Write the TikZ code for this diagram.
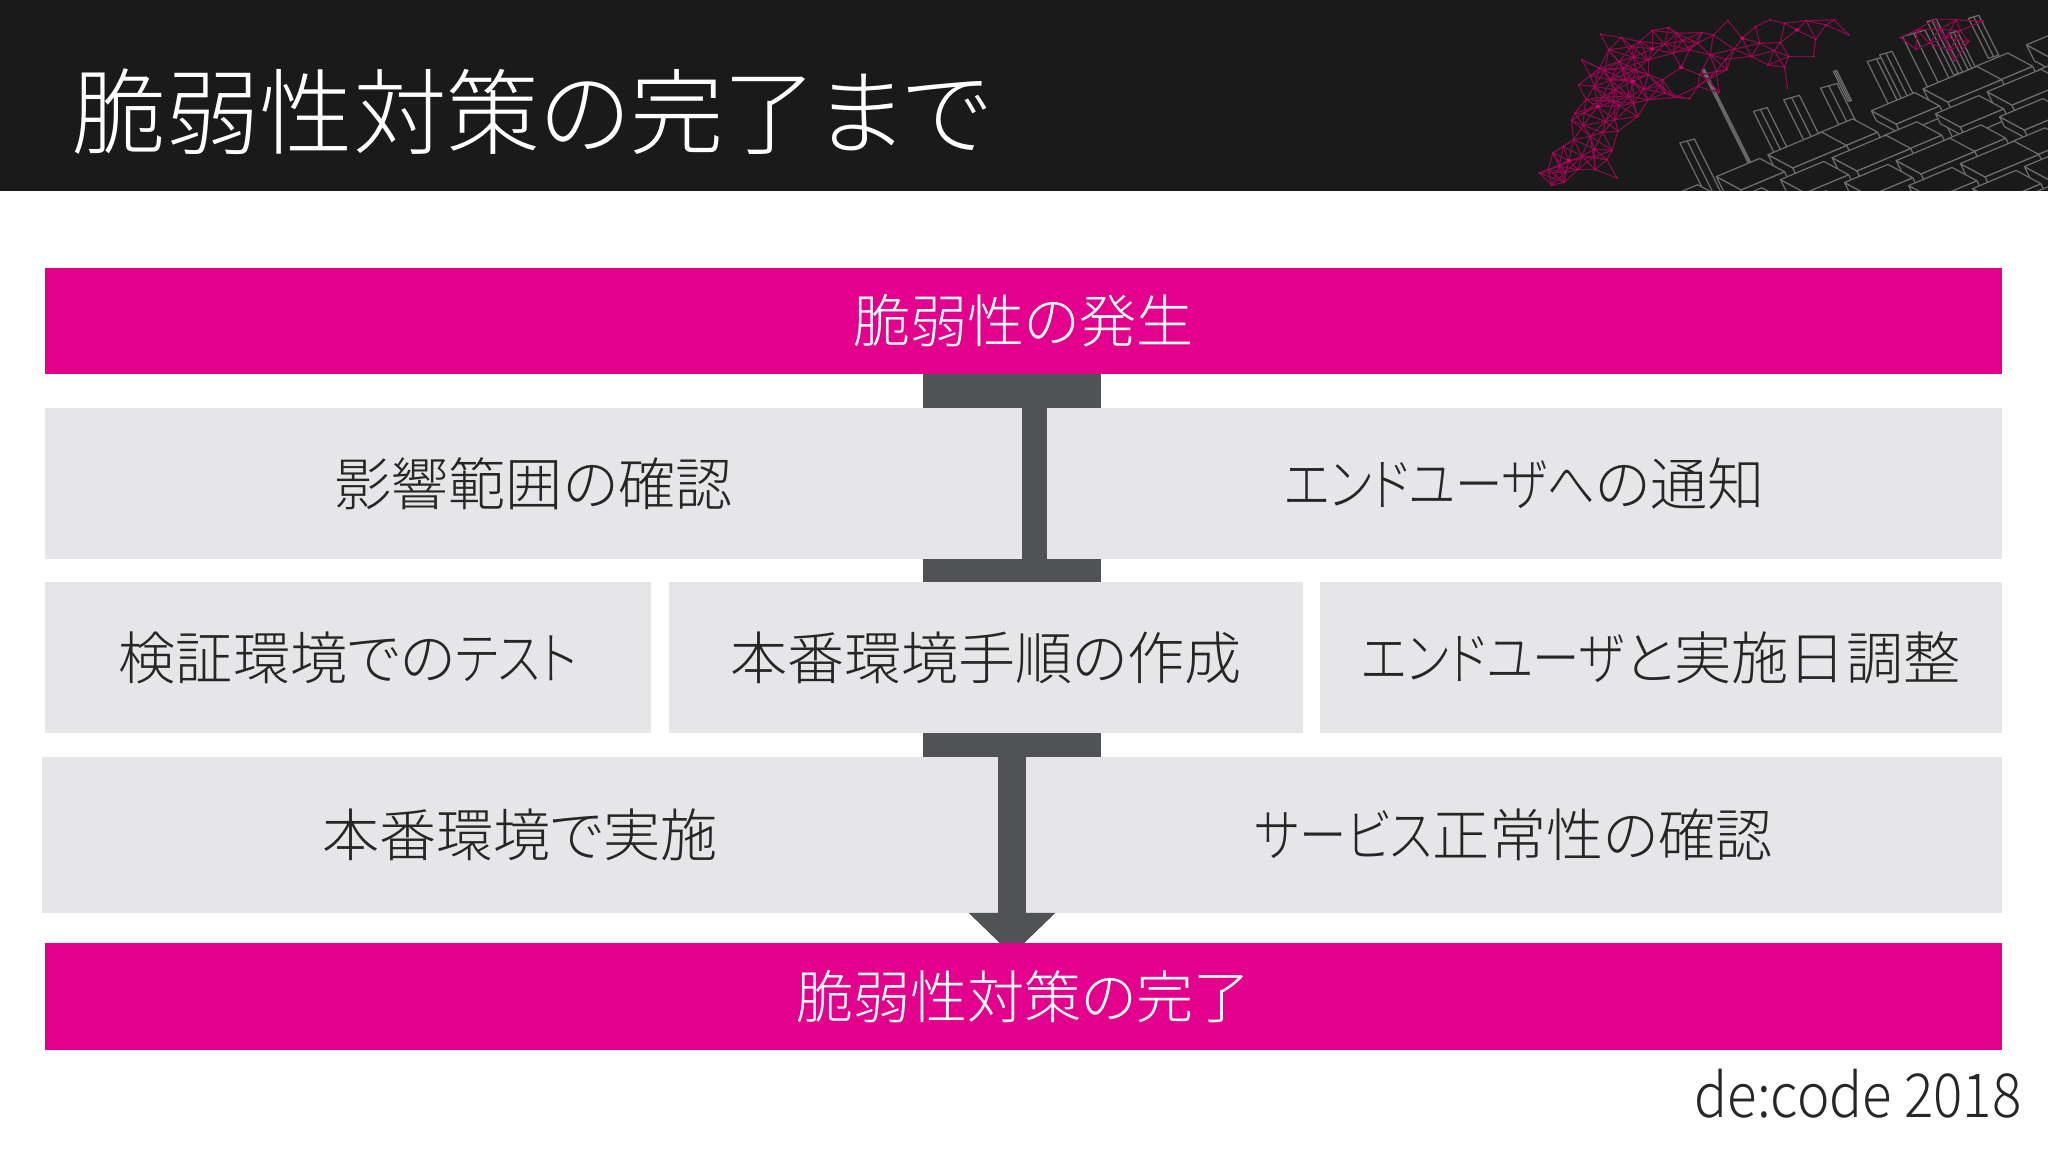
\documentclass[tikz,border=0pt]{standalone}
\usepackage{fontspec}
\setmainfont{Noto Sans CJK JP Light}[RawFeature=+palt]
\newfontfamily\kanafont{Noto Sans CJK JP Light}[RawFeature=+palt,FakeStretch=0.83]
\newfontfamily\creditfont{Noto Sans CJK JP Light}[FakeStretch=0.9]
\newcommand{\kana}[1]{{\kanafont #1}}
\usetikzlibrary{arrows.meta}
\definecolor{bandcol}{HTML}{1A1A1A}
\definecolor{pinkcol}{HTML}{E3008C}
\definecolor{graycol}{HTML}{E6E6E8}
\definecolor{beamcol}{HTML}{505254}
\definecolor{inkcol}{HTML}{262626}
\definecolor{netcol}{HTML}{D8006E}
\definecolor{wirecol}{HTML}{6C6C6C}
\newcommand{\netpts}{485/103,535/113,610/92,650/83,730/98,793/62,758/105,828/115,895/60,960/90,983/62,1085/105,920/128,1005/118,905/152,808/148,750/165,788/178,683/122,640/133,610/147,505/150,565/172,440/180,530/185,482/205,495/212,570/210,680/203,635/240,600/225,545/240,563/245,460/228,432/255,725/225,765/215,930/202,890/195,937/265,590/268,630/258,490/292,517/305,555/290,478/320,530/318,565/310,423/340,415/362,575/350,497/365,443/377,490/398,527/395,470/448,513/452,370/460,408/483,468/472,337/520,358/510,400/518,472/510,525/535,367/557,397/548,665/293,700/297,772/278,1210/113,1248/148,1305/88,1345/60,1410/63,1355/92,1320/113,1375/125,1340/183,660/160,700/150,720/130,600/180,540/205,510/240,470/260,520/270,600/300,640/280,720/260,745/240,790/210,850/170,870/130,940/170,860/80,930/70,1030/75,1050/60,1000/170,670/100,580/125,560/140,450/300,445/340,520/360,460/410,420/420,395/440,440/470,430/510,500/480,385/500,1280/130,1330/150,1250/90,1290/60}
\begin{document}
\begin{tikzpicture}[
		pinkbox/.style = {fill = pinkcol, text = white, inner sep=0pt, outer sep=0pt, font=\fontsize{16.25}{18}\selectfont},
		graybox/.style = {fill = graycol, text = inkcol, inner sep=0pt, outer sep=0pt, font=\fontsize{16.25}{18}\selectfont},
		flange/.style = {fill = beamcol, inner sep=0pt, outer sep=0pt, minimum width=1.78cm},
		stem/.style = {draw = beamcol},
		wire/.style = {draw = wirecol, line width=0.35pt, line join=round},
		>=Triangle]
	\useasboundingbox (0,0) rectangle (20.48,11.52);
	\fill[bandcol] (0,9.61) rectangle (20.48,11.52);
	\node[anchor=west, text=white, inner sep=0pt, font=\fontsize{26.6}{30}\selectfont] (title) at (0.72,10.4) {脆弱性対策の完了まで};
	% city and net in the band
	\begin{scope}
		\clip (13,9.61) rectangle (20.48,11.52);
		\begin{scope}[shift={(14,11.52)}, x=0.00413cm, y=-0.00333cm]
			\foreach \bx/\by/\bw/\bh in {730/210/6/290,677/430/35/200,855/335/33/150,928/300/38/170,1017/265/40/110,1048/215/8/90,1130/185/45/170,1160/165/30/150,1215/110/55/320,1275/65/22/160,1330/100/18/110,1375/55/25/120} {
				\filldraw[wire, fill=bandcol] (\bx,\by) -- ++(\bw,-0.35*\bw) -- ++(0.4*\bh,\bh) -- ++(-\bw,0.35*\bw) -- cycle;
				\draw[wire] (\bx+0.5*\bw,\by-0.18*\bw) -- ++(0.4*\bh,\bh);
			}
			\foreach \rowk in {0,1,2,3,4,5} {
				\foreach \coli in {8,7,...,0} {
					\pgfmathsetmacro{\bx}{640+125*\coli+30*\rowk}
					\pgfmathsetmacro{\by}{597-66*\coli+75*\rowk}
					\pgfmathsetmacro{\bh}{30+18*mod(\coli*3+\rowk*5,4)}
					\pgfmathsetmacro{\bu}{80+25*mod(\coli+2*\rowk,3)}
					\filldraw[wire, fill=bandcol] (\bx+60,\by+40) -- ++(0.4*\bh,\bh) -- ++(-60,-40) -- (\bx,\by) -- cycle;
					\filldraw[wire, fill=bandcol] (\bx+60,\by+40) -- ++(\bu,-0.52*\bu) -- ++(0.4*\bh,\bh) -- ++(-\bu,0.52*\bu) -- cycle;
					\filldraw[wire, fill=bandcol] (\bx,\by) -- ++(\bu,-0.52*\bu) -- ++(60,40) -- ++(-\bu,0.52*\bu) -- cycle;
				}
			}
			\foreach \xa/\ya in \netpts {
				\foreach \xb/\yb in \netpts {
					\pgfmathtruncatemacro{\nearpt}{veclen(\xa-\xb,\ya-\yb)<68 ? 1 : 0}
					\ifnum\nearpt=1 \draw[netcol!55!bandcol, line width=0.25pt] (\xa,\ya) -- (\xb,\yb); \fi
				}
			}
			\foreach \xa/\ya in \netpts {\fill[netcol] (\xa,\ya) circle (2.6);}
			\foreach \xa/\ya in {478/320,960/90,828/115,680/203,563/245,610/147,408/483} {\fill[netcol] (\xa,\ya) circle (5);}
		\end{scope}
	\end{scope}
	\node[pinkbox, minimum width=19.57cm, minimum height=1.06cm] (vulnstart) at (10.235,8.31) {脆弱性の発生};
	\node[graybox, minimum width=9.77cm, minimum height=1.51cm] (impactchk) at (5.335,6.685) {影響範囲の確認};
	\node[graybox, minimum width=9.55cm, minimum height=1.51cm] (usernotice) at (15.245,6.685) {\kana{エンドユーザへ}の通知};
	\node[graybox, minimum width=6.06cm, minimum height=1.51cm] (testrun) at (3.48,4.945) {検証環境での\kana{テスト}};
	\node[graybox, minimum width=6.34cm, minimum height=1.51cm] (procmake) at (9.86,4.945) {本番環境手順の作成};
	\node[graybox, minimum width=6.82cm, minimum height=1.51cm] (schedadj) at (16.61,4.945) {\kana{エンドユーザ}と実施日調整};
	\node[graybox, minimum width=9.56cm, minimum height=1.56cm] (prodrun) at (5.20,3.17) {本番環境で実施};
	\node[graybox, minimum width=9.76cm, minimum height=1.56cm] (svccheck) at (15.14,3.17) {\kana{サービス}正常性の確認};
	\node[flange, minimum height=0.34cm] (flangetop) at (10.12,7.61) {};
	\node[flange, minimum height=0.23cm] (flangemid) at (10.12,5.815) {};
	\node[flange, minimum height=0.24cm] (flangelow) at (10.12,4.07) {};
	\coordinate (arrowend) at (10.12,1.97);
	\draw[stem, line width=0.25cm] ([xshift=0.225cm]flangetop.south) -- ([xshift=0.225cm]flangemid.north);
	\draw[stem, line width=0.28cm, -{Triangle[width=0.84cm,length=0.42cm]}] (flangelow.south) -- (arrowend);
	\node[pinkbox, minimum width=19.57cm, minimum height=1.07cm] (vulndone) at (10.235,1.555) {脆弱性対策の完了};
	\node[anchor=base east, text=inkcol, inner sep=0pt, font=\creditfont\fontsize{17.3}{22}\selectfont] (credit) at (20.22,0.34) {de:code 2018};
\end{tikzpicture}
\end{document}
